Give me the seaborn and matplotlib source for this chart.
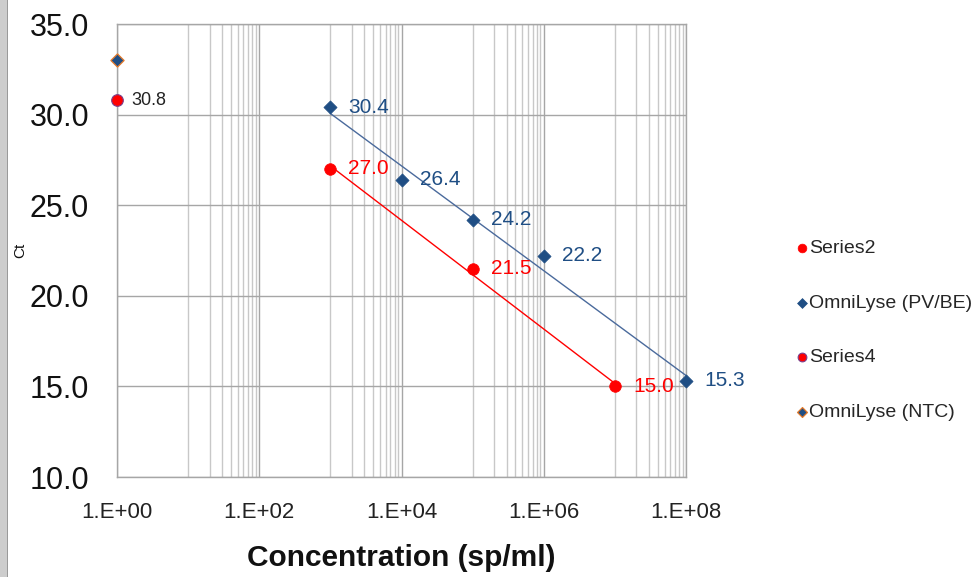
import numpy as np
import pandas as pd
import matplotlib
matplotlib.use("Agg")
import matplotlib.pyplot as plt
import matplotlib.ticker as mticker
from matplotlib.patches import Rectangle
import seaborn as sns

# ---- data ----
s2_conc = [1e3, 1e5, 1e7]
s2_ct = [27.0, 21.5, 15.0]
pv_conc = [1e3, 1e4, 1e5, 1e6, 1e8]
pv_ct = [30.4, 26.4, 24.2, 22.2, 15.3]
s4_conc = [1.0]
s4_ct = [30.8]
ntc_conc = [1.0]
ntc_ct = [33.0]
series_names = ["Series2", "OmniLyse (PV/BE)", "Series4", "OmniLyse (NTC)"]
x_ticks = [1e0, 1e2, 1e4, 1e6, 1e8]
x_ticklabels = ["1.E+00", "1.E+02", "1.E+04", "1.E+06", "1.E+08"]
y_ticks = [10, 15, 20, 25, 30, 35]

sns.set_theme(style="white")
plt.rcParams["font.family"] = ["Liberation Sans", "DejaVu Sans"]

RED = "#FF0000"
BLUE = "#1F4E84"
BLUE_LINE = "#4A6A9C"
ORANGE = "#E47A2A"
PURPLE = "#7A3E8A"

fig = plt.figure(figsize=(9.8, 5.77), dpi=100)
ax = fig.add_axes([0.1194, 0.1733, 0.5806, 0.7851])
ax.set_xscale("log")
ax.set_xlim(1, 1e8)
ax.set_ylim(10, 35)

# trendlines (log fit)
sns.regplot(x=s2_conc, y=s2_ct, logx=True, ci=None, scatter=False, ax=ax,
            line_kws=dict(color=RED, lw=1.0, zorder=3))
sns.regplot(x=pv_conc, y=pv_ct, logx=True, ci=None, scatter=False, ax=ax,
            line_kws=dict(color=BLUE_LINE, lw=1.0, zorder=3))

sns.scatterplot(x=s2_conc, y=s2_ct, ax=ax, marker="o", s=70, color=RED,
                edgecolor=RED, linewidth=0.5, label=series_names[0], zorder=5, clip_on=False)
sns.scatterplot(x=pv_conc, y=pv_ct, ax=ax, marker="D", s=45, color=BLUE,
                edgecolor=BLUE, linewidth=0.5, label=series_names[1], zorder=5, clip_on=False)
sns.scatterplot(x=s4_conc, y=s4_ct, ax=ax, marker="o", s=70, color=RED,
                edgecolor=PURPLE, linewidth=0.8, label=series_names[2], zorder=5, clip_on=False)
sns.scatterplot(x=ntc_conc, y=ntc_ct, ax=ax, marker="D", s=45, color=BLUE,
                edgecolor=ORANGE, linewidth=0.9, label=series_names[3], zorder=5, clip_on=False)

# data labels
for xv, yv in zip(s2_conc, s2_ct):
    ax.annotate(f"{yv:.1f}", (xv, yv), xytext=(13, 0), textcoords="offset points",
                ha="left", va="center", color=RED, fontsize=15)
for xv, yv in zip(pv_conc, pv_ct):
    ax.annotate(f"{yv:.1f}", (xv, yv), xytext=(13, 0), textcoords="offset points",
                ha="left", va="center", color=BLUE, fontsize=15)
for xv, yv in zip(s4_conc, s4_ct):
    ax.annotate(f"{yv:.1f}", (xv, yv), xytext=(10, 0), textcoords="offset points",
                ha="left", va="center", color="#222222", fontsize=13)

# grid
minor = [m * 10 ** (2 * k + 1) for k in range(4) for m in range(1, 10)]
ax.xaxis.set_major_locator(mticker.FixedLocator(x_ticks))
ax.xaxis.set_major_formatter(mticker.FixedFormatter(x_ticklabels))
ax.xaxis.set_minor_locator(mticker.FixedLocator(minor))
ax.xaxis.set_minor_formatter(mticker.NullFormatter())
ax.set_yticks(y_ticks)
ax.yaxis.set_major_formatter(mticker.FormatStrFormatter("%.1f"))
ax.grid(True, which="major", axis="both", color="#A6A6A6", lw=1.0)
ax.grid(True, which="minor", axis="x", color="#C8C8C8", lw=1.0)
ax.set_axisbelow(True)
for sp in ax.spines.values():
    sp.set_color("#A6A6A6")
    sp.set_linewidth(1.0)
ax.tick_params(axis="both", which="both", length=0)
ax.tick_params(axis="y", labelsize=22, pad=20, colors="#111111")
ax.tick_params(axis="x", labelsize=16, pad=18, colors="#222222")

ax.set_xlabel("Concentration (sp/ml)", fontsize=21.5, fontweight="bold", labelpad=15, color="#111111")
ax.set_ylabel("Ct", fontsize=11, color="#111111")
ax.yaxis.set_label_coords(-0.158, 0.5)

leg = ax.legend(loc="upper left", bbox_to_anchor=(0.804, 0.598), bbox_transform=fig.transFigure,
                frameon=False, fontsize=14, labelspacing=1.9, handlelength=0.6,
                handletextpad=0.1, borderaxespad=0, markerscale=0.75)

# window edge strip
fig.patches.append(Rectangle((0, 0), 7 / 980, 1, transform=fig.transFigure,
                             facecolor="#CDCDCD", edgecolor="none", zorder=0))
fig.patches.append(Rectangle((7 / 980, 0), 1.2 / 980, 1, transform=fig.transFigure,
                             facecolor="#9A9A9A", edgecolor="none", zorder=0))

fig.savefig("out.png", dpi=100)
